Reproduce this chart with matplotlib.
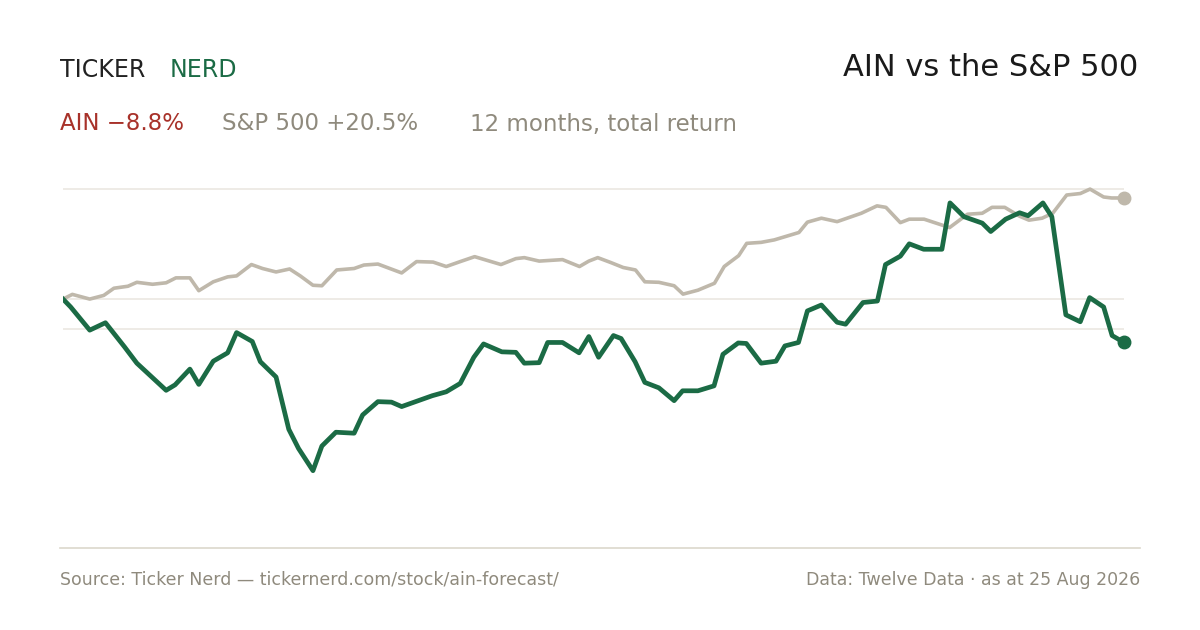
import matplotlib.pyplot as plt

# trading day index (0..250) and total return in %
ain_days = [0, 1.8, 6.3, 10, 14.5, 17.4, 24.3, 26.4, 29.9, 32, 35.4, 38.8, 40.9, 44.6, 46.5,
            50.2, 53.2, 55.5, 58.9, 61, 64.3, 68.6, 70.6, 74.2, 77.4, 79.8, 87, 90.3, 93.6,
            96.8, 99.1, 103.4, 106.7, 108.7, 112.2, 114.2, 117.7, 121.6, 123.9,
            126.2, 129.7, 131.5, 134.8, 137.1, 140.4, 144, 146, 149.6, 153.4, 155.5, 159.1,
            161, 164.5, 168, 170.1, 173.3, 175.4, 178.7, 182.4, 184.4, 188.5, 191.9, 193.8,
            197.3, 199.4, 202.8, 207.1, 209, 212.3, 216.6, 218.6, 222.1, 225.4, 227.4, 230.9,
            233, 236.3, 239.7, 241.9, 245.2, 247.2, 250]
ain_ret = [0, -1.6, -6.3, -4.8, -9.7, -13.0, -18.5, -17.4, -14.2, -17.3, -12.6, -10.9, -6.8,
           -8.6, -12.7, -15.8, -26.4, -30.3, -34.8, -29.8, -27.0, -27.2, -23.5, -20.8, -20.9,
           -21.8, -19.6, -18.8, -17.1, -11.8, -9.1, -10.7, -10.8, -13.0, -12.9, -8.8, -8.8,
           -10.9, -7.6,
           -11.8, -7.4, -8.0, -12.7, -16.9, -18.0, -20.6, -18.6, -18.6, -17.6, -11.2, -8.9,
           -9.0, -13.0, -12.6, -9.5, -8.8, -2.4, -1.2, -4.7, -5.1, -0.7, -0.4, 7.0, 8.7,
           11.2, 10.1, 10.1, 19.5, 16.7, 15.4, 13.7, 16.2, 17.5, 16.9, 19.5, 16.7, -3.2,
           -4.6, 0.3, -1.6, -7.4, -8.8]

spx_days = [0, 2.2, 6.3, 9.6, 12.0, 15.3, 17.4, 21.1, 24.3, 26.6, 29.9, 32, 35.4, 38.8, 40.9,
            44.4, 47.0, 50.2, 53.4, 55.9, 58.9, 61, 64.5, 68.6, 70.9, 74.2, 79.8, 83.3, 87.2,
            90.3, 93.6, 97.0, 103.2, 106.7, 108.7, 112.2, 117.7, 121.7, 123.9,
            126.0, 129.1, 132.0, 134.9, 137.1, 140.4, 144.0, 146.1, 149.6, 153.5, 155.8,
            159.2, 161.1, 164.5, 167.6, 173.4, 175.4, 178.7, 182.4, 188.1, 191.8, 193.9,
            197.3, 199.4, 202.9, 208.9, 213.1, 216.6, 218.9, 221.9, 225.4, 227.6, 230.7,
            233.2, 236.5, 239.7, 242.0, 245.2, 247.1, 250]
spx_ret = [0, 0.95, 0, 0.74, 2.2, 2.6, 3.4, 3.0, 3.3, 4.3, 4.3, 1.7, 3.5, 4.5, 4.7, 7.0, 6.2,
           5.5, 6.1, 4.7, 2.8, 2.7, 5.9, 6.2, 6.9, 7.1, 5.3, 7.6, 7.5, 6.6, 7.6, 8.6, 7.0,
           8.2, 8.4, 7.7, 8.0, 6.6, 7.7,
           8.4, 7.4, 6.4, 5.9, 3.5, 3.4, 2.7, 1.0, 1.8, 3.2, 6.6, 8.8, 11.3, 11.5, 12.0,
           13.5, 15.6, 16.4, 15.7, 17.4, 18.9, 18.6, 15.5, 16.2, 16.2, 14.5, 17.2, 17.4,
           18.6, 18.6, 16.8, 16.0, 16.4, 17.4, 21.1, 21.4, 22.3, 20.7, 20.5, 20.5]

grid_levels = [22.3, 0, -6.1]

GREEN = '#1b6b45'
SPX = '#bfb8ab'
RED = '#a8322a'
MUTED = '#8f8a7d'

fig = plt.figure(figsize=(12, 6.3), dpi=100)
ax = fig.add_axes([63/1200, 1 - 520/630, 1061/1200, 360/630])
ax.set_xlim(0, 250)
ax.set_ylim(-44.8, 28.2)
ax.axis('off')

for g in grid_levels:
    ax.axhline(g, color='#ebe8e1', lw=1.2, zorder=0)

ax.plot(spx_days, spx_ret, color=SPX, lw=2.6, solid_joinstyle='round', zorder=2)
ax.plot(ain_days, ain_ret, color=GREEN, lw=3.4, solid_joinstyle='round', zorder=3)
ax.plot(spx_days[-1], spx_ret[-1], 'o', ms=9, color=SPX, clip_on=False, zorder=4)
ax.plot(ain_days[-1], ain_ret[-1], 'o', ms=9, color=GREEN, clip_on=False, zorder=4)

# header
fig.text(60/1200, 1 - 70/630, 'TICKER', fontsize=17, color='#222222', va='center')
fig.text(170/1200, 1 - 70/630, 'NERD', fontsize=17, color=GREEN, va='center')
fig.text(1138/1200, 1 - 67/630, 'AIN vs the S&P 500', fontsize=22, color='#1a1a1a',
         ha='right', va='center')
fig.text(60/1200, 1 - 124/630, 'AIN \u22128.8%', fontsize=16.5, color=RED, va='center')
fig.text(222/1200, 1 - 124/630, 'S&P 500 +20.5%', fontsize=16.5, color=MUTED, va='center')
fig.text(470/1200, 1 - 124/630, '12 months, total return', fontsize=16.5, color=MUTED, va='center')

# footer
fig.add_artist(plt.Line2D([60/1200, 1140/1200], [1 - 548/630] * 2, color='#dcd8cc', lw=1.2))
fig.text(60/1200, 1 - 580/630, 'Source: Ticker Nerd \u2014 tickernerd.com/stock/ain-forecast/',
         fontsize=12.5, color=MUTED, va='center')
fig.text(1140/1200, 1 - 580/630, 'Data: Twelve Data \u00b7 as at 25 Aug 2026',
         fontsize=12.5, color=MUTED, va='center', ha='right')

fig.savefig('out.png', dpi=100, facecolor='white')
